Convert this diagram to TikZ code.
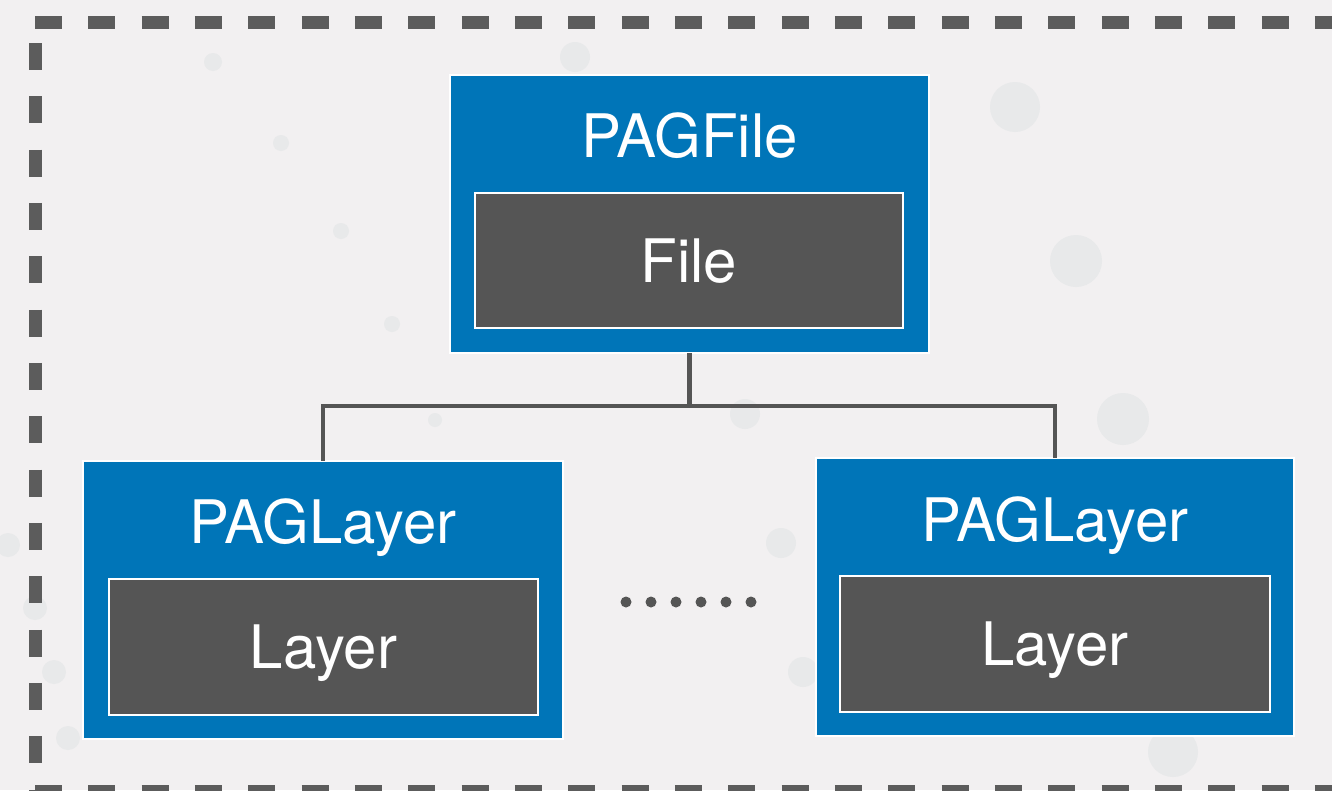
\documentclass[tikz,border=0pt]{standalone}
\usepackage{fontspec}
\setmainfont{TeX Gyre Heros}
\begin{document}
\begin{tikzpicture}[x=1pt,y=-1pt,
  every node/.style={inner sep=0pt,outer sep=0pt},
  classbox/.style={rectangle,fill=pagblue,draw=white,line width=2pt},
  membox/.style={rectangle,fill=memgrey,draw=white,line width=2pt},
  label/.style={text=white,font=\fontsize{60}{62}\selectfont,anchor=base},
  link/.style={draw=linkgrey,line width=4.5pt,line join=miter},
  frame/.style={draw=framegrey,line width=13pt,dash pattern=on 27pt off 26.33pt},
  speck/.style={fill=speckgrey}]
\definecolor{pagblue}{HTML}{0075B8}
\definecolor{memgrey}{HTML}{555555}
\definecolor{linkgrey}{HTML}{555555}
\definecolor{framegrey}{HTML}{5C5C5C}
\definecolor{bggrey}{HTML}{F2F0F1}
\definecolor{speckgrey}{HTML}{E8E9EA}

% canvas
\fill[bggrey] (0,0) rectangle (1332,790);
\useasboundingbox (0,0) rectangle (1332,790);

% faint background specks
\foreach \cx/\cy/\r in {213/62/9, 281/143/8, 341/231/8, 392/324/8, 575/57/15,
  1015/107/25, 1076/261/26, 1123/419/26, 435/420/7, 745/414/15, 781/543/15,
  8/545/12, 35/608/12, 54/672/12, 68/738/12, 803/672/15, 1173/752/25}
  \fill[speck] (\cx,\cy) circle (\r);

% dashed frame (runs off the right and bottom edges)
\draw[frame] (35,22.5) -- (1400,22.5);
\draw[frame] (35.5,43) -- (35.5,830);
\draw[frame] (35,791.5) -- (1400,791.5);

% class boxes
\node[classbox,minimum width=479pt,minimum height=278pt] (file) at (689.5,214) {};
\node[classbox,minimum width=480pt,minimum height=278pt] (layerL) at (323,600) {};
\node[classbox,minimum width=478pt,minimum height=278pt] (layerR) at (1055,597) {};

% tree connectors
\coordinate (busL) at (323,406);
\coordinate (busR) at (1055,406);
\draw[link] (file.south) -- (file.south |- busL) coordinate (bus);
\draw[link] (bus) -- (busL) -- (layerL.north);
\draw[link] (bus) -- (busR) -- (layerR.north);

% PAGFile
\node[label] (fileTitle) at (689.5,157) {PAGFile};
\node[membox,minimum width=428pt,minimum height=135pt] (fileMem) at (689,260.5) {};
\node[label] (fileMemText) at (689,282) {File};

% left PAGLayer
\node[label] (layerLTitle) at (323,543) {PAGLayer};
\node[membox,minimum width=429pt,minimum height=136pt] (layerLMem) at (323.5,647) {};
\node[label] (layerLMemText) at (323.5,668) {Layer};

% right PAGLayer
\node[label] (layerRTitle) at (1055,541) {PAGLayer};
\node[membox,minimum width=430pt,minimum height=136pt] (layerRMem) at (1055,644) {};
\node[label] (layerRMemText) at (1055,665) {Layer};

% ellipsis between the layers
\foreach \i in {0,...,5}
  \fill[memgrey] (626+25*\i,602) circle (5.5);
\end{tikzpicture}
\end{document}
